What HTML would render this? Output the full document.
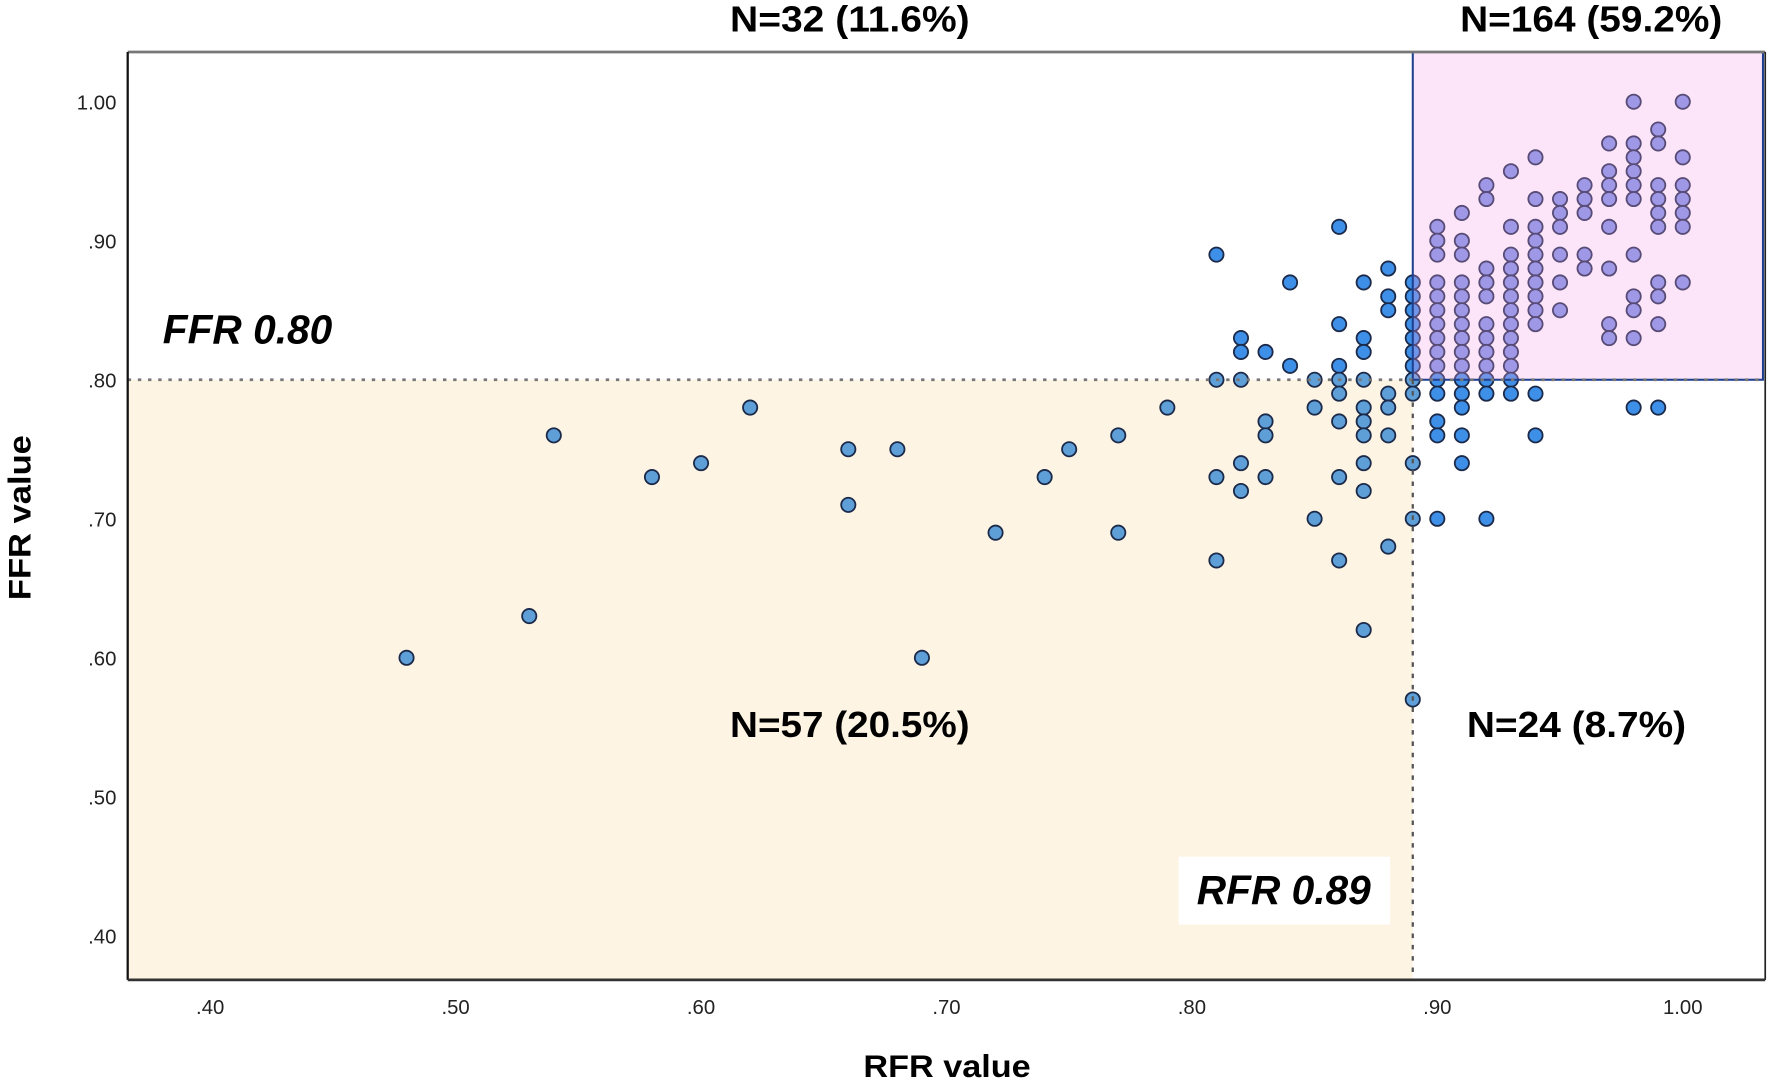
<!DOCTYPE html>
<html><head><meta charset="utf-8"><style>
html,body{margin:0;padding:0;background:#fff;}
svg{display:block;}
text{font-family:"Liberation Sans",sans-serif;}
</style></head><body>
<svg id="chart" width="1772" height="1085" viewBox="0 0 1568 960" preserveAspectRatio="none" xmlns="http://www.w3.org/2000/svg">
<rect x="0" y="0" width="1568" height="960" fill="#fff"/>
<g id="regions"></g>
<g id="points"></g>
<g id="overlays"></g>
<g id="axes"></g>
<g id="labels"></g>
</svg>
<script>
const xTicks=[0.40,0.50,0.60,0.70,0.80,0.90,1.00];
const xTickLabels=[".40",".50",".60",".70",".80",".90","1.00"];
const yTicks=[1.00,0.90,0.80,0.70,0.60,0.50,0.40];
const yTickLabels=["1.00",".90",".80",".70",".60",".50",".40"];
const ffrCut=0.80;
const rfrCut=0.89;
const columnsX=[0.48,0.53,0.54,0.58,0.60,0.62,0.66,0.68,0.69,0.72,0.74,0.75,0.77,0.79,0.81,0.82,0.83,0.84,0.85,0.86,0.87,0.88,0.89,0.90,0.91,0.92,0.93,0.94,0.95,0.96,0.97,0.98,0.99,1.00];
const columnsY=[
[0.60],[0.63],[0.76],[0.73],[0.74],[0.78],[0.75,0.71],[0.75],[0.60],[0.69],[0.73],[0.75],[0.76,0.69],[0.78],
[0.89,0.80,0.73,0.67],
[0.83,0.82,0.80,0.74,0.72],
[0.82,0.77,0.76,0.73],
[0.87,0.81],
[0.80,0.78,0.70],
[0.91,0.84,0.81,0.80,0.79,0.77,0.73,0.67],
[0.87,0.83,0.82,0.80,0.78,0.77,0.76,0.74,0.72,0.62],
[0.88,0.86,0.85,0.79,0.78,0.76,0.68],
[0.87,0.86,0.85,0.84,0.83,0.82,0.81,0.80,0.79,0.74,0.70,0.57],
[0.91,0.90,0.89,0.87,0.86,0.85,0.84,0.83,0.82,0.81,0.80,0.79,0.77,0.76,0.70],
[0.92,0.90,0.89,0.87,0.86,0.85,0.84,0.83,0.82,0.81,0.80,0.79,0.78,0.76,0.74],
[0.94,0.93,0.88,0.87,0.86,0.84,0.83,0.82,0.81,0.80,0.79,0.70],
[0.95,0.91,0.89,0.88,0.87,0.86,0.85,0.84,0.83,0.82,0.81,0.80,0.79],
[0.96,0.93,0.91,0.90,0.89,0.88,0.87,0.86,0.85,0.84,0.79,0.76],
[0.93,0.92,0.91,0.89,0.87,0.85],
[0.94,0.93,0.92,0.89,0.88],
[0.97,0.95,0.94,0.93,0.91,0.88,0.84,0.83],
[1.00,0.97,0.96,0.95,0.94,0.93,0.89,0.86,0.85,0.83,0.78],
[0.98,0.97,0.94,0.93,0.92,0.91,0.87,0.86,0.84,0.78],
[1.00,0.96,0.94,0.93,0.92,0.91,0.87]
];
const NS="http://www.w3.org/2000/svg";
const L=113,T=46,R=1562,B=867;
function sx(v){return 186+(v-0.40)*2171.7;}
function sy(v){return 90+(1.00-v)*1230;}
function mk(tag,attrs,parent,txt){const e=document.createElementNS(NS,tag);for(const k in attrs)e.setAttribute(k,attrs[k]);if(txt!==undefined)e.textContent=txt;parent.appendChild(e);return e;}
const reg=document.getElementById('regions');
let r1=mk('rect',{x:L,y:sy(ffrCut),width:sx(rfrCut)-L,height:B-sy(ffrCut),fill:'#fdf4e3'},reg);


const pts=document.getElementById('points');
columnsX.forEach((xv,i)=>{columnsY[i].forEach(yv=>{
 const inPink=xv>rfrCut&&yv>ffrCut; const inBeige=xv<=rfrCut&&yv<=ffrCut;
 const fill=inPink?'#7d95e6':(inBeige?'#5f9fd8':'#3d8fe8');
 const c=mk('circle',{cx:sx(xv),cy:sy(yv),r:6.3,fill:fill,stroke:'#1c2a4a','stroke-width':1.6},pts);
 
 
});});
const ov=document.getElementById('overlays');
let pk=mk('rect',{x:sx(rfrCut),y:T,width:R-2-sx(rfrCut),height:sy(ffrCut)-T,fill:'rgba(245,160,235,0.28)',stroke:'#1f3f8f','stroke-width':1.8},ov);


let hl=mk('line',{x1:L,y1:sy(ffrCut),x2:R,y2:sy(ffrCut),stroke:'#777','stroke-width':2.5,'stroke-dasharray':'3,6'},ov);


let vl=mk('line',{x1:sx(rfrCut),y1:sy(ffrCut),x2:sx(rfrCut),y2:B,stroke:'#555','stroke-width':2,'stroke-dasharray':'4,6'},ov);


const ax=document.getElementById('axes');
mk('line',{x1:L,y1:T,x2:R,y2:T,stroke:'#777','stroke-width':2.5},ax);
mk('line',{x1:R,y1:T,x2:R,y2:B,stroke:'#222','stroke-width':1.5},ax);
let yl=mk('line',{x1:L,y1:T,x2:L,y2:B,stroke:'#111','stroke-width':2},ax);


let xl=mk('line',{x1:L,y1:B,x2:R,y2:B,stroke:'#333','stroke-width':2.5},ax);


xTicks.forEach((v,i)=>{const t=mk('text',{x:sx(v),y:897,'text-anchor':'middle','font-size':18,fill:'#222'},ax,xTickLabels[i]);

});
yTicks.forEach((v,i)=>{const t=mk('text',{x:103,y:sy(v)+7,'text-anchor':'end','font-size':18,fill:'#222'},ax,yTickLabels[i]);

});
const lb=document.getElementById('labels');
function lab(name,x,y,txt,size,len,extra){const t=mk('text',Object.assign({x:x,y:y,'text-anchor':'middle','font-size':size,'font-weight':'bold',fill:'#000',textLength:len,lengthAdjust:'spacingAndGlyphs'},extra||{}),lb,txt);

return t;}
lab('count-top-left',752,28,'N=32 (11.6%)',32,212);
lab('count-top-right',1408,28,'N=164 (59.2%)',32,232);
lab('count-bottom-left',752,652,'N=57 (20.5%)',32,212);
lab('count-bottom-right',1395,652,'N=24 (8.7%)',32,194);
lab('ffr-cutoff-label',219,304,'FFR 0.80',36,150,{'font-style':'italic'});
let wb=mk('rect',{x:1043,y:758,width:187,height:60,fill:'#fff'},lb);


lab('rfr-cutoff-label',1136,800,'RFR 0.89',36,154,{'font-style':'italic'});
lab('x-axis-title',838,953,'RFR value',28,148);
lab('y-axis-title',0,0,'FFR value',28,146,{transform:'translate(27,458) rotate(-90)'});
</script>
</body></html>
